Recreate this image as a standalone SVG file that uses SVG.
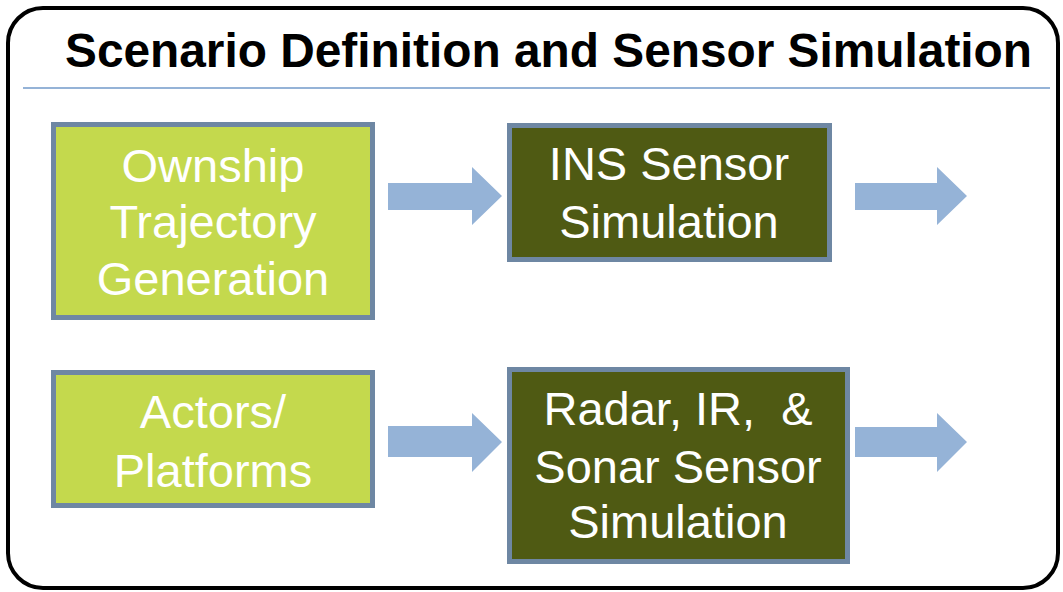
<svg xmlns="http://www.w3.org/2000/svg" width="1063" height="592" viewBox="0 0 1063 592">
<style>
.frame{fill:#ffffff;stroke:#000000;stroke-width:4}
.sep{stroke:#95b3d7;stroke-width:2}
.title{font-family:"Liberation Sans",Arial,sans-serif;font-weight:bold;font-size:48px;fill:#000000}
.light{fill:#c4d94d;stroke:#6e87a3;stroke-width:5}
.dark{fill:#4f5a13;stroke:#6e87a3;stroke-width:5}
.lbl{font-family:"Liberation Sans",Arial,sans-serif;font-size:47px;fill:#ffffff;text-anchor:middle;white-space:pre}
.arrow{fill:#95b3d7}
</style>
<rect class="frame" x="8" y="8" width="1050" height="580" rx="35" ry="35"/>
<text class="title" x="65" y="67" textLength="967" lengthAdjust="spacingAndGlyphs">Scenario Definition and Sensor Simulation</text>
<line class="sep" x1="23" y1="88" x2="1050" y2="88"/>
<g id="connectors">
<polygon class="arrow" points="388,183 472,183 472,167 502,196 472,225 472,210 388,210"/>
<polygon class="arrow" points="855,183 937,183 937,167 967,196 937,225 937,210 855,210"/>
<polygon class="arrow" points="388,426 472,426 472,413 502,442 472,472 472,457 388,457"/>
<polygon class="arrow" points="855,427 937,427 937,413 967,442 937,472 937,457 855,457"/>
</g>
<g id="ownship">
<rect class="light" x="53.5" y="124.5" width="319" height="193"/>
<text class="lbl" x="213" y="182">Ownship</text>
<text class="lbl" x="213" y="238">Trajectory</text>
<text class="lbl" x="213" y="295">Generation</text>
</g>
<g id="ins">
<rect class="dark" x="509.5" y="125.5" width="320" height="134"/>
<text class="lbl" x="669" y="180">INS Sensor</text>
<text class="lbl" x="669" y="238">Simulation</text>
</g>
<g id="actors">
<rect class="light" x="53.5" y="372.5" width="319" height="133"/>
<text class="lbl" x="213" y="428">Actors/</text>
<text class="lbl" x="213" y="487">Platforms</text>
</g>
<g id="radar">
<rect class="dark" x="509.5" y="369.5" width="338" height="192"/>
<text class="lbl" x="678" y="425" xml:space="preserve">Radar, IR,  &amp;</text>
<text class="lbl" x="678" y="483">Sonar Sensor</text>
<text class="lbl" x="678" y="538">Simulation</text>
</g>
</svg>
